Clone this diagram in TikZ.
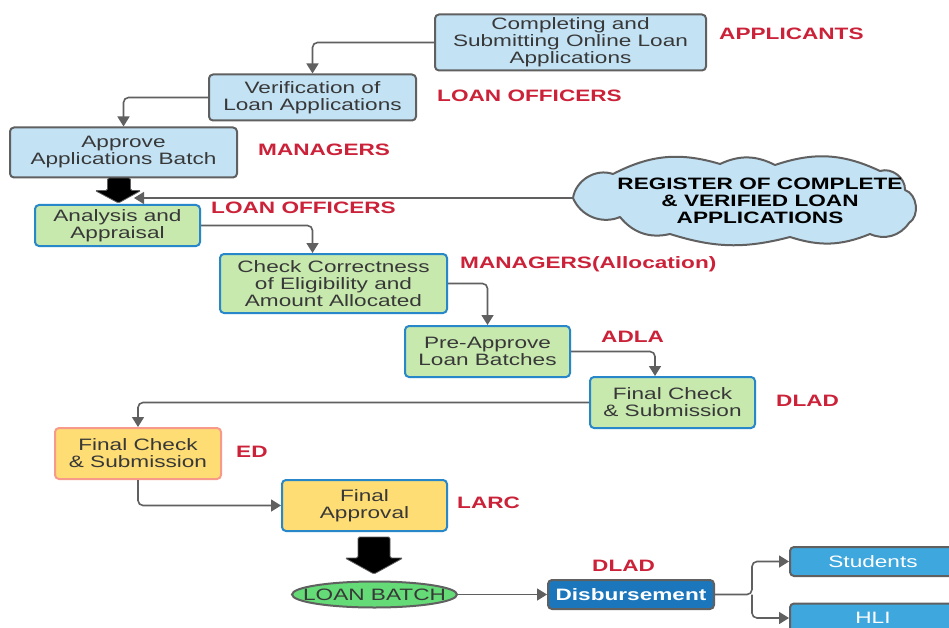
\documentclass[tikz,border=0pt]{standalone}
\usepackage{fontspec}
\setmainfont{Liberation Sans}[FakeStretch=1.37]
\usetikzlibrary{arrows.meta,shapes.geometric,shapes.symbols}
\definecolor{boxblue}{HTML}{C3E3F5}
\definecolor{boxgreen}{HTML}{C7E9AE}
\definecolor{boxyellow}{HTML}{FDDD74}
\definecolor{salmon}{HTML}{F79A8A}
\definecolor{edgeblue}{HTML}{2787C8}
\definecolor{edgegray}{HTML}{606060}
\definecolor{txtgray}{HTML}{383838}
\definecolor{labred}{HTML}{CC2239}
\definecolor{batchgreen}{HTML}{64DB76}
\definecolor{disbblue}{HTML}{1B76BC}
\definecolor{outblue}{HTML}{3EA7DD}
\tikzset{
  basebox/.style={rectangle, rounded corners=4pt, line width=2pt, inner sep=0pt,
    align=center, text=txtgray, font=\fontsize{16.5}{17}\selectfont},
  bluebox/.style={basebox, fill=boxblue, draw=edgegray},
  greenbox/.style={basebox, fill=boxgreen, draw=edgeblue},
  yellowbox/.style={basebox, fill=boxyellow, draw=edgeblue},
  edbox/.style={basebox, fill=boxyellow, draw=salmon},
  role/.style={anchor=west, inner sep=0pt, text=labred, font=\fontsize{16.5}{17}\selectfont\bfseries},
  conn/.style={draw=edgegray, line width=1.6pt, rounded corners=5pt,
    -{Triangle[length=10pt,width=12pt]}},
  blockarrow/.style={fill=black, draw=edgegray, line width=0.8pt, rounded corners=1.5pt},
  cloudline/.style={fill=boxblue, draw=edgegray, line width=2pt, line join=round},
}
\begin{document}
\begin{tikzpicture}[x=1pt,y=-1pt]
\useasboundingbox (0,0) rectangle (949,628);
\clip (0,0) rectangle (949,628);
\fill[white] (0,0) rectangle (949,628);

% process boxes
\node[bluebox, minimum width=271pt, minimum height=56pt] (n1) at (570.5,42.5) {Completing and\\Submitting Online Loan\\Applications};
\node[bluebox, minimum width=207pt, minimum height=46pt] (n2) at (312.5,97.5) {Verification of\\Loan Applications};
\node[bluebox, minimum width=227pt, minimum height=50pt] (n3) at (123.5,152.5) {Approve\\Applications Batch};
\node[greenbox, minimum width=165pt, minimum height=41pt] (n5) at (117.5,225.5) {Analysis and\\Appraisal};
\node[greenbox, minimum width=227pt, minimum height=59pt] (n6) at (333.5,283.5) {Check Correctness\\of Eligibility and\\Amount Allocated};
\node[greenbox, minimum width=165pt, minimum height=51pt] (n7) at (487.5,351.5) {Pre-Approve\\Loan Batches};
\node[greenbox, minimum width=165pt, minimum height=51pt] (n8) at (672.5,402.5) {Final Check\\\& Submission};
\node[edbox, minimum width=166pt, minimum height=51pt] (n9) at (138,453.5) {Final Check\\\& Submission};
\node[yellowbox, minimum width=165pt, minimum height=51pt] (n10) at (364.5,505.5) {Final\\Approval};
\node[ellipse, fill=batchgreen, draw=edgegray, line width=2pt, inner sep=0pt,
  minimum width=165pt, minimum height=26pt,
  label={[text=txtgray, inner sep=0pt, font=\fontsize{16.5}{17}\selectfont]center:LOAN BATCH}] (n12) at (374.5,594.5) {};
\node[basebox, fill=disbblue, draw=edgegray, text=white, font=\fontsize{16.5}{17}\selectfont\bfseries,
  minimum width=166pt, minimum height=29pt] (n13) at (631,594.5) {Disbursement};
\node[basebox, fill=outblue, draw=edgegray, text=white,
  minimum width=166pt, minimum height=29pt] (n14) at (873,561.5) {Students};
\node[basebox, fill=outblue, draw=edgegray, text=white,
  minimum width=166pt, minimum height=29pt] (n15) at (873,618) {HLI};

% cloud
\coordinate (cloudwest) at (573,198);
\draw[cloudline] (cloudwest) to[bend left=50] (613,174) to[bend left=22] (720,164)
  to[bend left=26] (775,165) to[bend left=22] (880,171) to[bend left=55] (905,190)
  to[bend left=65] (909,223) to[bend left=40] (870,234) to[bend left=20] (790,237)
  to[bend left=16] (670,234) to[bend left=32] (620,217) to[bend left=45] (cloudwest) -- cycle;
\node[inner sep=0pt, align=center, font=\fontsize{16.5}{17}\selectfont\bfseries, text=black]
  (cloudtxt) at (760,201) {REGISTER OF COMPLETE\\\& VERIFIED LOAN\\APPLICATIONS};

% role labels
\node[role] (l1) at (719,34) {APPLICANTS};
\node[role] (l2) at (437,96) {LOAN OFFICERS};
\node[role] (l3) at (258,150) {MANAGERS};
\node[role] (l4) at (211,208) {LOAN OFFICERS};
\node[role] (l5) at (460,264) {MANAGERS(Allocation)};
\node[role] (l6) at (601,337) {ADLA};
\node[role] (l7) at (776,401) {DLAD};
\node[role] (l8) at (236,452) {ED};
\node[role] (l9) at (457,503) {LARC};
\node[role] (l10) at (592,566) {DLAD};

% block arrows
\draw[blockarrow] (107.5,178) -- (130.5,178) -- (130.5,190.5) -- (141,190.5) -- (118.5,203)
  -- (95,190.5) -- (107.5,190.5) -- cycle;
\draw[blockarrow] (358,537) -- (390,537) -- (390,558) -- (403,558) -- (374,574)
  -- (345,558) -- (358,558) -- cycle;

% connectors
\coordinate (cloudend) at (134,198);
\draw[conn] (n1.west) -| (n2.north);
\draw[conn] (n2.west) -| (n3.north);
\draw[conn] (cloudwest) -- (cloudend);
\draw[conn] (n5.east) -| ([xshift=-21pt]n6.north);
\draw[conn] (n6.east) -| (n7.north);
\draw[conn] (n7.east) -| ([xshift=-17.5pt]n8.north);
\draw[conn] (n8.west) -| (n9.north);
\draw[conn] (n9.south) |- (n10.west);
\draw[conn] (n12.east) -- (n13.west);
\coordinate (fork) at (752,594.5);
\draw[conn] (n13.east) -- (fork) |- (n14.west);
\draw[conn] (fork) |- (n15.west);
\end{tikzpicture}
\end{document}
